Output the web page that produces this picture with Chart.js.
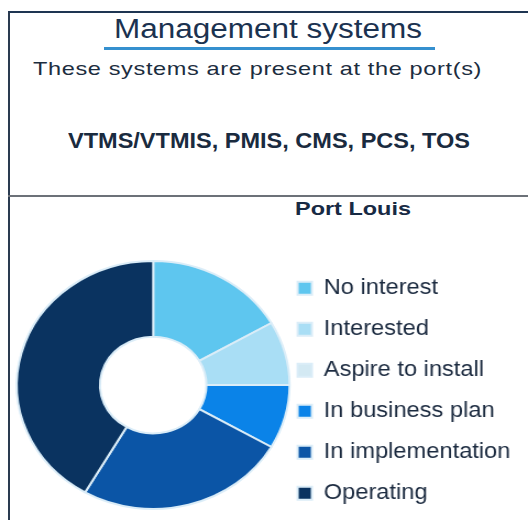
<!DOCTYPE html>
<html>
<head>
<meta charset="utf-8">
<script src="https://cdn.jsdelivr.net/npm/chart.js@4/dist/chart.umd.min.js"></script>
<style>
  html, body { margin: 0; padding: 0; background: #fff; }
  body { width: 528px; height: 520px; overflow: hidden; position: relative; font-family: "Liberation Sans", Arial, sans-serif; }
  .frame { position: absolute; left: 8px; top: 10.5px; width: 540px; height: 560px; border-top: 2px solid #1e3552; border-left: 2px solid #2a3b50; }
  .divider { position: absolute; left: 8px; top: 194.5px; width: 530px; height: 2.5px; background: #6c7178; }
  .underline { position: absolute; left: 104px; top: 46.5px; width: 331px; height: 3px; background: #3590cf; }
  .txt { position: absolute; white-space: nowrap; line-height: 1; transform-origin: 0 0; }
  #title { font-size: 27px; color: #1b3250; }
  #subtitle { font-size: 18.5px; color: #1c2d40; letter-spacing: 0.5px; }
  #systems { font-size: 22px; font-weight: bold; color: #1a2b3f; }
  #port { font-size: 18.5px; font-weight: bold; color: #172a44; }
  #pie { position: absolute; left: 0; top: 198px; transform: scaleX(1.1); transform-origin: 0 0; }
</style>
</head>
<body>
<div class="frame"></div>
<div class="divider"></div>
<div class="underline"></div>
<div class="txt" id="title">Management systems</div>
<div class="txt" id="subtitle">These systems are present at the port(s)</div>
<div class="txt" id="systems">VTMS/VTMIS, PMIS, CMS, PCS, TOS</div>
<div class="txt" id="port">Port Louis</div>
<canvas id="pie" width="480" height="374"></canvas>
<script>
const categories = ['No interest', 'Interested', 'Aspire to install', 'In business plan', 'In implementation', 'Operating'];
const systemCounts = [2, 1, 0, 1, 3, 5];

const sliceColors = ['#5ec6ef', '#a9def5', '#d3e9f3', '#0a83e8', '#0b55a6', '#0a3360'];
const fontFamily = '"Liberation Sans", Arial, sans-serif';

// stretch each text line to the width it has in the picture
const placeText = (id, left, capCenter, width) => {
  const el = document.getElementById(id);
  const size = parseFloat(getComputedStyle(el).fontSize);
  el.style.left = left + 'px';
  el.style.top = (capCenter - 0.488 * size) + 'px';
  const w = el.getBoundingClientRect().width;
  el.style.transform = `scaleX(${width / w})`;
}

placeText('title', 114, 28.8, 308);
placeText('subtitle', 33, 69, 449);
placeText('systems', 68, 141.2, 402);
placeText('port', 295, 208.7, 116);

new Chart(document.getElementById('pie'), {
  type: 'doughnut',
  data: {
    labels: categories,
    datasets: [
      {
        data: systemCounts,
        backgroundColor: sliceColors,
        borderColor: '#dbedf8',
        borderWidth: 2,
        radius: 124,
        cutout: '39%'
      }
    ]
  },
  options: {
    responsive: false,
    animation: false,
    devicePixelRatio: 1,
    layout: {
      padding: { left: 27.5, right: 6, top: 0, bottom: 0 }
    },
    plugins: {
      legend: {
        position: 'right',
        align: 'start',
        // empty title only keeps the gap under the "Port Louis" heading
        title: {
          display: true,
          text: '',
          font: { size: 10 },
          padding: { top: 0, bottom: 48 }
        },
        labels: {
          boxWidth: 13,
          boxHeight: 13,
          padding: 19.5,
          color: '#1c2b40',
          font: { family: fontFamily, size: 21.5 }
        }
      },
      tooltip: { enabled: false }
    }
  }
});
</script>
</body>
</html>
